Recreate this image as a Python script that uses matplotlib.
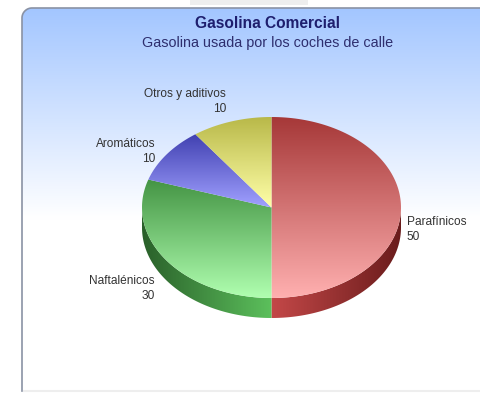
import numpy as np
import matplotlib.pyplot as plt
from matplotlib.patches import Polygon, Rectangle
from matplotlib.colors import to_rgb

plt.rcParams['font.family'] = ['Liberation Sans', 'DejaVu Sans']

# datos de la gasolina
categorias = ['Parafínicos', 'Naftalénicos', 'Aromáticos', 'Otros y aditivos']
valores = [50, 30, 10, 10]
colores_top = [('#a63838', '#ffb0b0'), ('#449444', '#b0ffb0'),
               ('#4040b0', '#a0a0ff'), ('#b8b848', '#ffffa8')]
colores_lado = [('#c44848', '#6a1c1c'), ('#5cc05c', '#2a602a'),
                ('#5050c0', '#262680'), ('#c0c050', '#707020')]

W, H = 481, 393
fig = plt.figure(figsize=(W / 100, H / 100), dpi=100)
ax = fig.add_axes([0, 0, 1, 1])
ax.set_xlim(0, W)
ax.set_ylim(H, 0)
ax.axis('off')

# barra gris arriba
ax.add_patch(Rectangle((190, 0), 118, 5, facecolor='#eeeeee', edgecolor='none'))

# panel con esquina redondeada arriba a la izquierda
r = 10
arco = np.linspace(np.pi, 1.5 * np.pi, 20)
ax_x = 22 + r + r * np.cos(arco)
ax_y = 8 + r + r * np.sin(arco)
contorno = np.vstack([[[22, 391]], np.column_stack([ax_x, ax_y]), [[520, 8], [520, 391]]])
panel = Polygon(contorno, closed=True, facecolor='none', edgecolor='none', zorder=1)
ax.add_patch(panel)
yy = np.linspace(0, 1, 200)[:, None]
t = np.clip(yy / 0.55, 0, 1)
c0 = np.array(to_rgb('#a3c6ff'))
c1 = np.array([1.0, 1.0, 1.0])
grad = (c0 * (1 - t)[..., None] + c1 * t[..., None]) * np.ones((1, 2, 1))
im = ax.imshow(grad, extent=(22, 520, 391, 8), aspect='auto', zorder=1)
im.set_clip_path(panel)

# bordes del panel
ax.plot(contorno[:-1, 0], contorno[:-1, 1], color='#8a92a4', linewidth=1.2, zorder=2)
ax.plot([24, 481], [391, 391], color='#eeeeee', linewidth=1.5, zorder=2)


def grad_fill(poly, c_a, c_b, extent, horizontal=False, z=3):
    ax.add_patch(poly)
    n = 200
    s = np.linspace(0, 1, n)
    a, b = np.array(to_rgb(c_a)), np.array(to_rgb(c_b))
    cols = a * (1 - s)[:, None] + b * s[:, None]
    if horizontal:
        img = cols[None, :, :]
    else:
        img = cols[:, None, :]
    img = ax.imshow(img, extent=extent, aspect='auto', zorder=z, interpolation='bilinear')
    img.set_clip_path(poly)


cx, cy, rx, ry, prof = 271.5, 207.5, 129.5, 90.5, 20

def punto(theta):
    return cx + rx * np.sin(theta), cy - ry * np.cos(theta)

total = sum(valores)
angs = np.cumsum([0] + valores) / total * 2 * np.pi

# paredes laterales (parte frontal)
for i in range(len(valores)):
    a0, a1 = max(angs[i], np.pi / 2), min(angs[i + 1], 3 * np.pi / 2)
    if a1 <= a0:
        continue
    th = np.linspace(a0, a1, 100)
    xs, ys = punto(th)
    pts = np.vstack([np.column_stack([xs, ys]), np.column_stack([xs[::-1], ys[::-1] + prof])])
    poly = Polygon(pts, closed=True, facecolor='none', edgecolor='none')
    ca, cb = colores_lado[i]
    if np.mean(xs) > cx:
        ext = (cx, cx + rx, cy + ry + prof, cy)
    else:
        ext = (cx, cx - rx, cy + ry + prof, cy)
    grad_fill(poly, ca, cb, ext, horizontal=True, z=3)

# caras superiores
for i in range(len(valores)):
    th = np.linspace(angs[i], angs[i + 1], 120)
    xs, ys = punto(th)
    pts = np.vstack([[cx, cy], np.column_stack([xs, ys])])
    poly = Polygon(pts, closed=True, facecolor='none', edgecolor='none')
    ca, cb = colores_top[i]
    ext = (pts[:, 0].min(), pts[:, 0].max(), pts[:, 1].max(), pts[:, 1].min())
    grad_fill(poly, ca, cb, ext, z=4)

# etiquetas
etq = {
    'Parafínicos': (407, 216, 'left'),
    'Naftalénicos': (155, 275, 'right'),
    'Aromáticos': (155, 138, 'right'),
    'Otros y aditivos': (226, 88, 'right'),
}
for nombre, v in zip(categorias, valores):
    x, y, ha = etq[nombre]
    ax.text(x, y, f'{nombre}\n{v}', ha=ha, va='top', fontsize=8.6,
            color='#333333', linespacing=1.3, zorder=6)

ax.text(268, 23, 'Gasolina Comercial', ha='center', va='center', fontsize=11.2,
        fontweight='bold', color='#1e1e6e', zorder=6)
ax.text(268, 43, 'Gasolina usada por los coches de calle', ha='center', va='center',
        fontsize=10.4, color='#2e2e6e', zorder=6)

fig.savefig('out.png', dpi=100)
